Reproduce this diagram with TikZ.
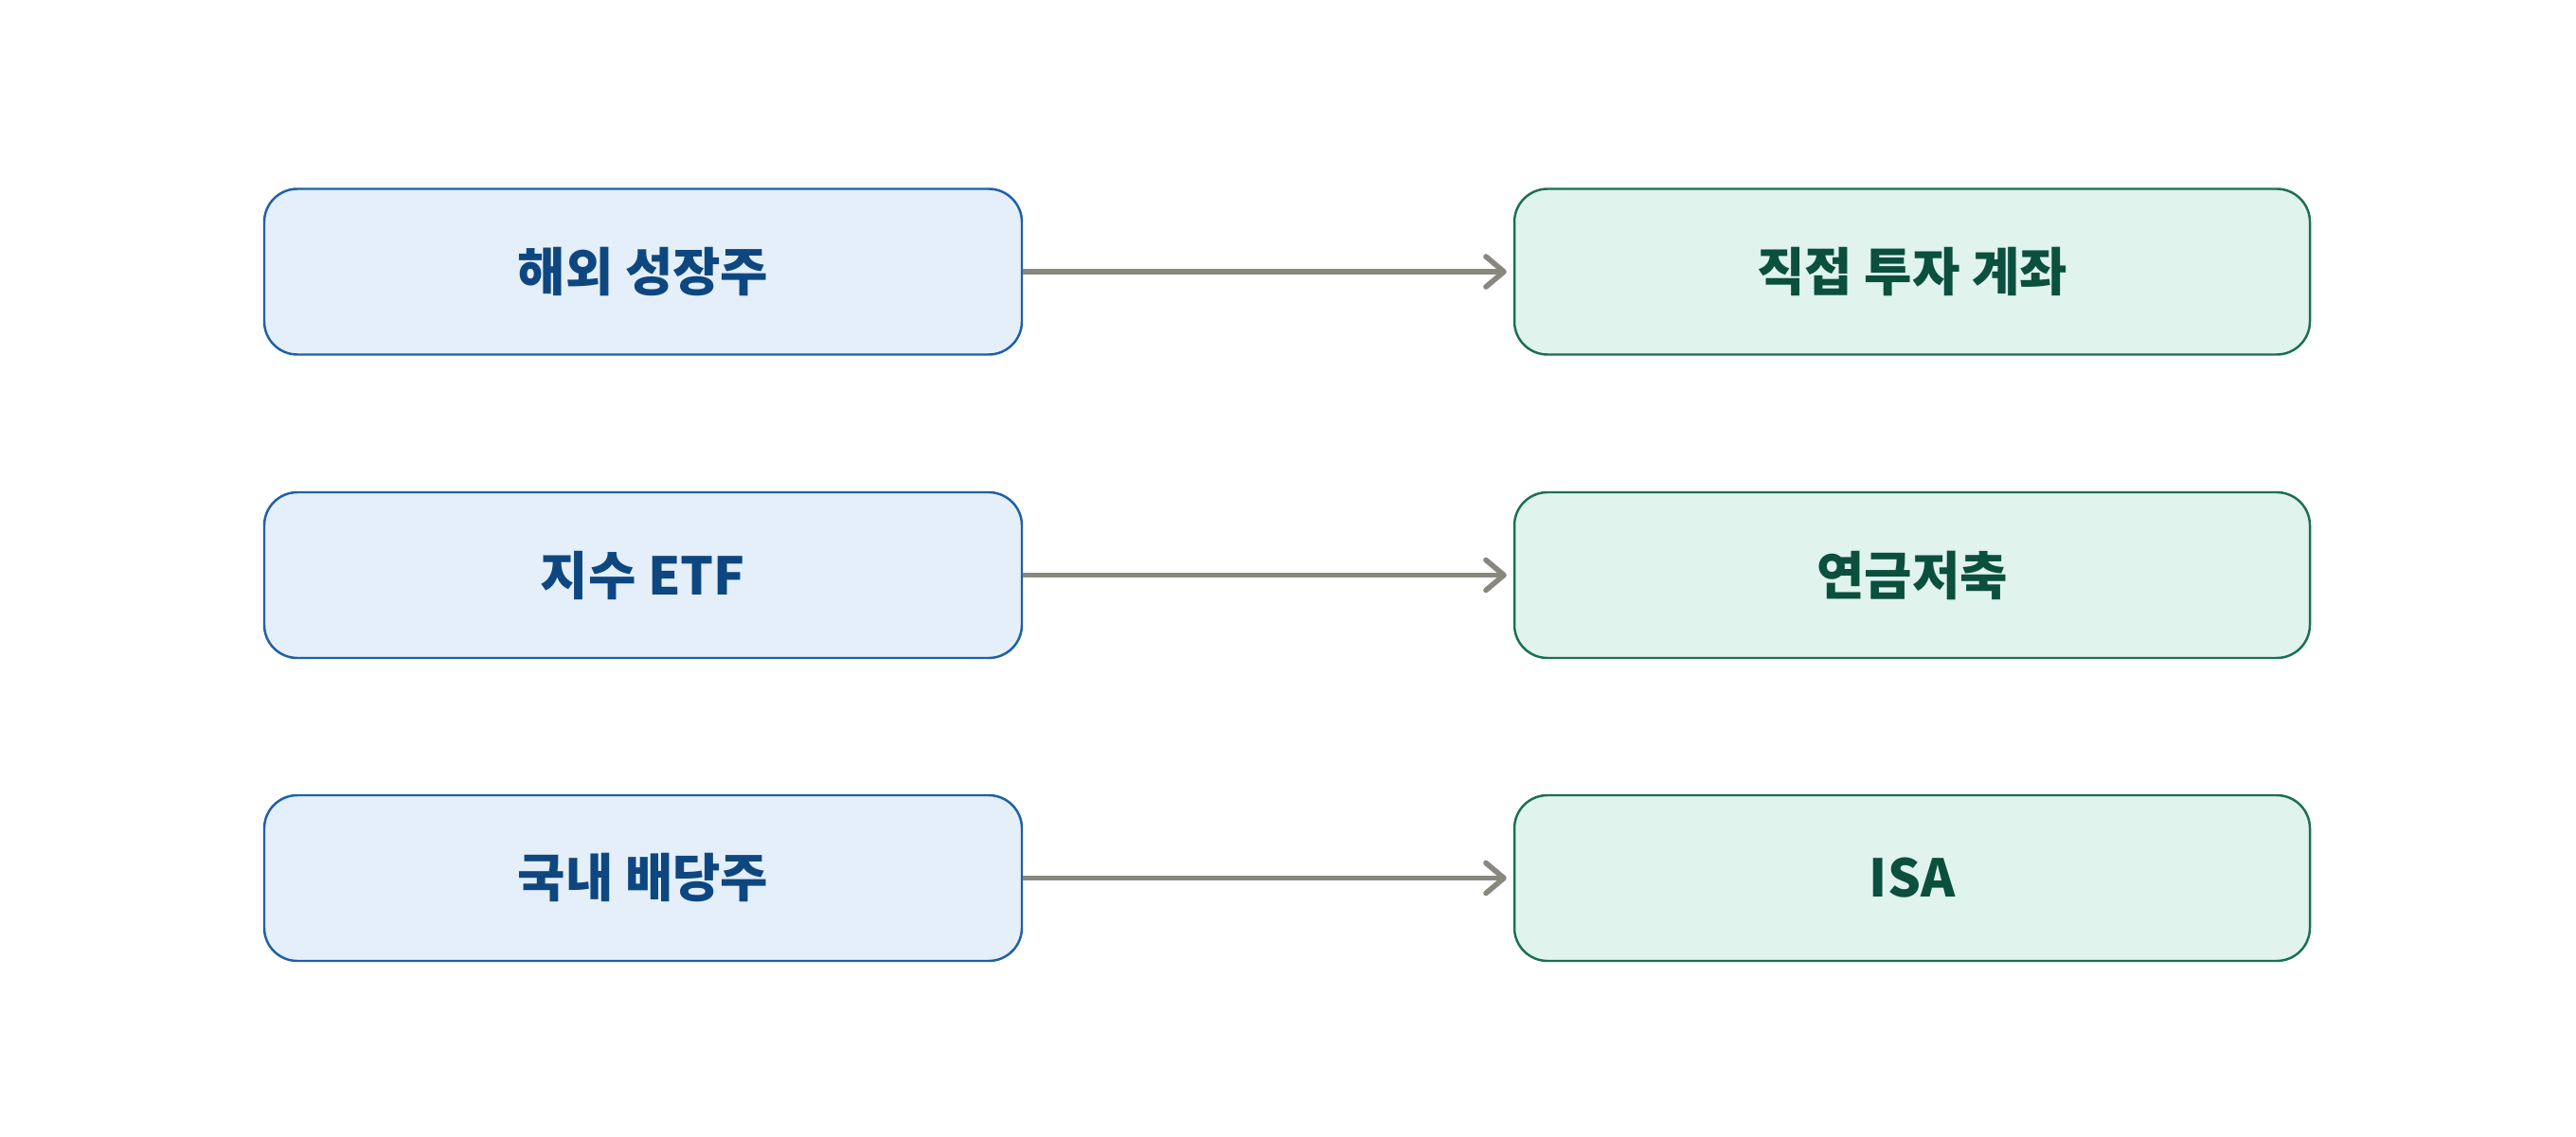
\documentclass[tikz,border=0pt]{standalone}
\usepackage{fontspec}
\newfontfamily\kr{Noto Sans CJK KR}
\usetikzlibrary{arrows.meta}
\definecolor{srcfill}{HTML}{E4EFFA}
\definecolor{srcline}{HTML}{1F5FA8}
\definecolor{srctext}{HTML}{0E4780}
\definecolor{dstfill}{HTML}{E0F3EC}
\definecolor{dstline}{HTML}{1A7050}
\definecolor{dsttext}{HTML}{0B4F3D}
\definecolor{flow}{HTML}{88887F}
\tikzset{
  srcbox/.style={draw=srcline,fill=srcfill,text=srctext,rounded corners=0.35cm,line width=0.7pt,
    minimum width=8cm,minimum height=1.75cm,font=\kr\bfseries\fontsize{15.6}{18}\selectfont},
  dstbox/.style={draw=dstline,fill=dstfill,text=dsttext,rounded corners=0.35cm,line width=0.7pt,
    minimum width=8.4cm,minimum height=1.75cm,font=\kr\bfseries\fontsize{15.6}{18}\selectfont},
  flowarrow/.style={draw=flow,line width=1.6pt,-{Straight Barb[length=0.19cm,width=0.32cm,line width=1.6pt,round]},shorten >=0.07cm}
}
\begin{document}
\begin{tikzpicture}
			\useasboundingbox(0,0)rectangle(27.2,12);
			\node[srcbox](growth)at(6.79,9.13){해외 성장주};
			\node[dstbox](direct)at(20.19,9.13){직접 투자 계좌};
			\draw[flowarrow](growth.east)--(direct.west);
			\node[srcbox](index)at(6.79,5.925){지수 ETF};
			\node[dstbox](pension)at(20.19,5.925){연금저축};
			\draw[flowarrow](index.east)--(pension.west);
			\node[srcbox](dividend)at(6.79,2.725){국내 배당주};
			\node[dstbox](isa)at(20.19,2.725){ISA};
			\draw[flowarrow](dividend.east)--(isa.west);
			\end{tikzpicture}
\end{document}
